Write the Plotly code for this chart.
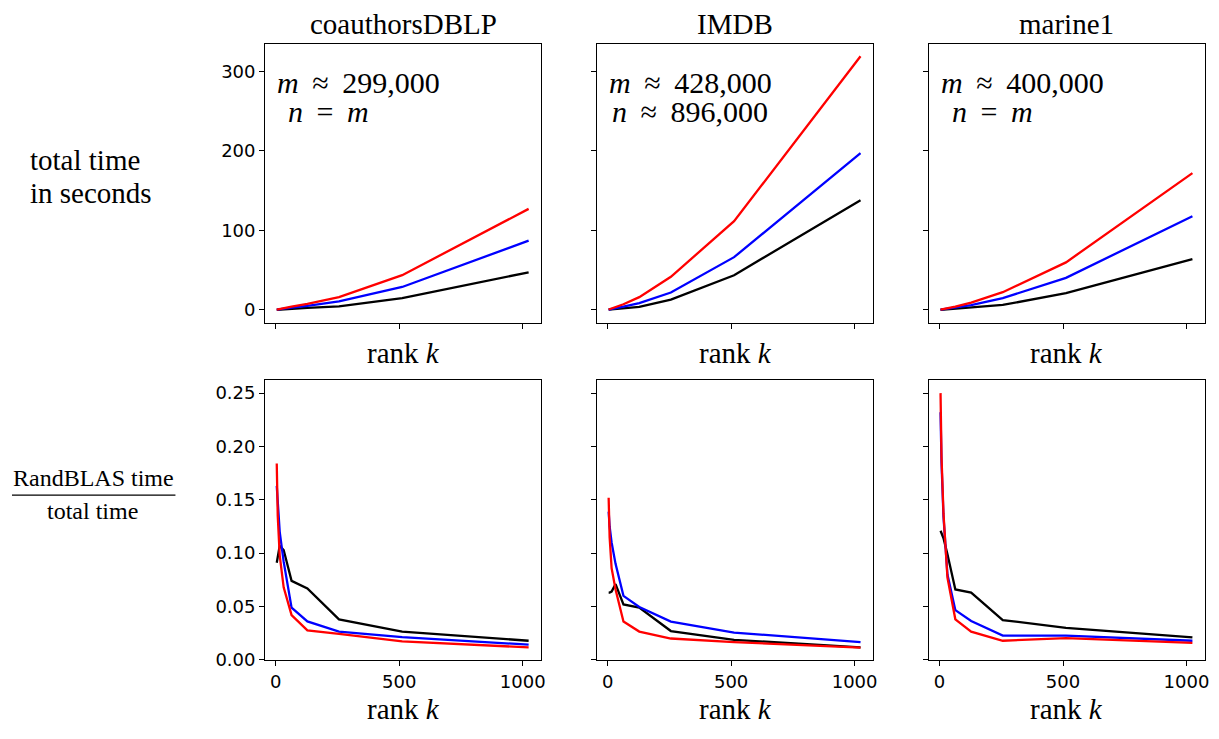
import plotly.graph_objects as go
from plotly.subplots import make_subplots

# ---------------- data ----------------
datasets = ["coauthorsDBLP", "IMDB", "marine1"]
dims_line1 = ["<i>m</i>\u2009 ≈ \u2009299,000", "<i>m</i>\u2009 ≈ \u2009428,000", "<i>m</i>\u2009 ≈ \u2009400,000"]
dims_line2 = ["<i>n</i>\u2009 = \u2009<i>m</i>", "<i>n</i>\u2009 ≈ \u2009896,000", "<i>n</i>\u2009 = \u2009<i>m</i>"]

rank_k = [4, 8, 16, 32, 64, 128, 256, 512, 1024]

# total time in seconds (top row)
time_red = [
    [0.3, 0.6, 1.1, 2.2, 4.0, 7.5, 16.0, 43.6, 127.0],
    [0.5, 0.9, 1.8, 3.5, 7.0, 16.0, 41.6, 111.5, 319.0],
    [0.3, 0.5, 1.0, 2.0, 4.0, 9.0, 22.2, 59.7, 172.0],
]
time_blue = [
    [0.2, 0.4, 0.8, 1.5, 2.8, 5.0, 10.7, 28.8, 87.0],
    [0.3, 0.5, 1.0, 2.0, 4.0, 8.6, 21.8, 66.3, 197.0],
    [0.2, 0.4, 0.8, 1.4, 2.8, 6.0, 14.8, 40.3, 117.7],
]
time_black = [
    [0.1, 0.2, 0.4, 0.8, 1.3, 2.4, 4.5, 14.8, 47.3],
    [0.2, 0.3, 0.5, 0.9, 1.8, 3.7, 12.8, 43.6, 138.0],
    [0.1, 0.2, 0.4, 0.7, 1.3, 3.0, 6.2, 21.0, 63.8],
]

# RandBLAS time / total time (bottom row)
frac_red = [
    [0.184, 0.135, 0.098, 0.068, 0.042, 0.0277, 0.0244, 0.0173, 0.0117],
    [0.152, 0.115, 0.086, 0.066, 0.036, 0.0265, 0.0200, 0.0166, 0.0114],
    [0.250, 0.190, 0.137, 0.077, 0.038, 0.0265, 0.0179, 0.0203, 0.0160],
]
frac_blue = [
    [0.163, 0.148, 0.120, 0.092, 0.049, 0.036, 0.0265, 0.0213, 0.0142],
    [0.139, 0.125, 0.110, 0.090, 0.060, 0.0496, 0.0358, 0.0256, 0.0166],
    [0.232, 0.185, 0.134, 0.080, 0.0466, 0.0364, 0.0228, 0.0228, 0.0179],
]
frac_black = [
    [0.091, 0.098, 0.107, 0.103, 0.074, 0.067, 0.038, 0.0265, 0.0179],
    [0.063, 0.063, 0.064, 0.071, 0.052, 0.049, 0.027, 0.0188, 0.0117],
    [0.121, 0.119, 0.114, 0.099, 0.066, 0.063, 0.0373, 0.030, 0.021],
]

top_ticks = [0, 100, 200, 300]
bottom_ticks = [0.0, 0.05, 0.10, 0.15, 0.20, 0.25]
x_ticks = [0, 500, 1000]

# ---------------- figure ----------------
OFF = 8                     # page body margin in the browser
W, H = 1219 - 2 * OFF, 739 - 2 * OFF   # page (figure + margins) fits the window exactly


def px(x):
    return (x - OFF) / W


def py(y):
    return 1 - (y - OFF) / H


fig = make_subplots(rows=2, cols=3)

col_px = [(266, 543), (599, 876), (932, 1209)]
row_px = [(44, 327), (385, 669)]

serif = "Liberation Serif"
sans = "DejaVu Sans"
lw = 2.3

for c in range(3):
    for r, (red, blue, black) in enumerate([(time_red, time_blue, time_black),
                                             (frac_red, frac_blue, frac_black)]):
        for vals, col in [(black, "black"), (blue, "blue"), (red, "red")]:
            fig.add_trace(go.Scatter(x=rank_k, y=vals[c], mode="lines",
                                     line=dict(color=col, width=lw),
                                     showlegend=False, hoverinfo="skip"),
                          row=r + 1, col=c + 1)

axis_common = dict(showline=True, mirror=True, linecolor="black", linewidth=1.1,
                   ticks="outside", ticklen=5, tickwidth=1.1, tickcolor="black",
                   showgrid=False, zeroline=False,
                   tickfont=dict(family=sans, size=18, color="black"))

for r in range(2):
    for c in range(3):
        idx = r * 3 + c + 1
        xa = "xaxis" if idx == 1 else f"xaxis{idx}"
        ya = "yaxis" if idx == 1 else f"yaxis{idx}"
        x0, x1 = col_px[c]
        y0, y1 = row_px[r]
        fig.layout[xa].update(domain=[px(x0), px(x1)], range=[-43, 1075],
                              tickvals=x_ticks, showticklabels=(r == 1),
                              **axis_common)
        if r == 0:
            fig.layout[ya].update(domain=[py(y1), py(y0)], range=[-16, 335],
                                  tickvals=top_ticks, showticklabels=(c == 0),
                                  **axis_common)
        else:
            fig.layout[ya].update(domain=[py(y1), py(y0)], range=[0, 0.2625],
                                  tickvals=bottom_ticks, tickformat=".2f",
                                  showticklabels=(c == 0), **axis_common)


def label(text, x, y, size, xanchor="center"):
    return dict(text=text, x=px(x), y=py(y), xref="paper", yref="paper",
                xanchor=xanchor, yanchor="middle", showarrow=False,
                font=dict(family=serif, size=size, color="black"))


annotations = []
for c in range(3):
    x0, x1 = col_px[c]
    xc = (x0 + x1) / 2
    annotations.append(label(datasets[c], xc, 24, 29))
    annotations.append(label("rank <i>k</i>", xc, 358, 29))
    annotations.append(label("rank <i>k</i>", xc, 719, 29))
    annotations.append(label(dims_line1[c], x0 + 10, 84, 30, xanchor="left"))
    offs = 13 if c == 1 else 21
    annotations.append(label(dims_line2[c], x0 + offs, 113, 30, xanchor="left"))

annotations.append(label("total time", 28, 162, 29, xanchor="left"))
annotations.append(label("in seconds", 28, 196, 29, xanchor="left"))
annotations.append(label("RandBLAS time", 94, 485, 24))
annotations.append(label("total time", 93, 518, 24))

fig.update_layout(
    width=W, height=H,
    margin=dict(l=0, r=0, t=0, b=0),
    paper_bgcolor="white", plot_bgcolor="white",
    annotations=annotations,
    shapes=[dict(type="line", xref="paper", yref="paper",
                 x0=px(12), x1=px(176), y0=py(502), y1=py(502),
                 line=dict(color="black", width=1.2))],
)

fig.write_html("out.html")
